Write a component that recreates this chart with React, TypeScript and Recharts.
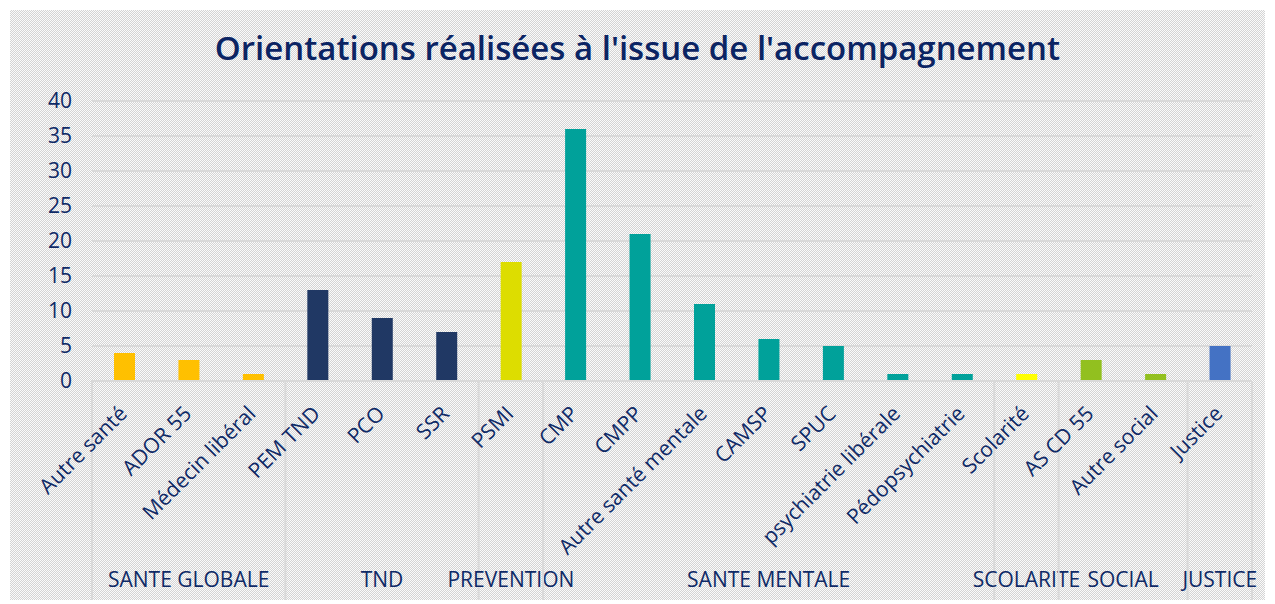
import React from 'react';
import { BarChart, Bar, XAxis, YAxis, CartesianGrid, Cell } from 'recharts';

const categories = [
  'Autre santé', 'ADOR 55', 'Médecin libéral',
  'PEM TND', 'PCO', 'SSR',
  'PSMI',
  'CMP', 'CMPP', 'Autre santé mentale', 'CAMSP', 'SPUC', 'psychiatrie libérale', 'Pédopsychiatrie',
  'Scolarité',
  'AS CD 55', 'Autre social',
  'Justice',
];
const values = [4, 3, 1, 13, 9, 7, 17, 36, 21, 11, 6, 5, 1, 1, 1, 3, 1, 5];
const groups = [
  'SANTE GLOBALE', 'SANTE GLOBALE', 'SANTE GLOBALE',
  'TND', 'TND', 'TND',
  'PREVENTION',
  'SANTE MENTALE', 'SANTE MENTALE', 'SANTE MENTALE', 'SANTE MENTALE', 'SANTE MENTALE', 'SANTE MENTALE', 'SANTE MENTALE',
  'SCOLARITE',
  'SOCIAL', 'SOCIAL',
  'JUSTICE',
];
const yTicks = [0, 5, 10, 15, 20, 25, 30, 35, 40];

const groupColors: Record<string, string> = {
  'SANTE GLOBALE': '#FFC000',
  TND: '#203864',
  PREVENTION: '#DDDD00',
  'SANTE MENTALE': '#00A19A',
  SCOLARITE: '#FFFF00',
  SOCIAL: '#92C01F',
  JUSTICE: '#4472C4',
};

const data = categories.map((name, i) => ({ name, value: values[i], group: groups[i] }));

const TEXT = '#0F2A66';
const GRID = '#D9D9D9';
const FONT = '"Open Sans", "Noto Sans", sans-serif';

const W = 1255;
const H = 590;
const MARGIN = { top: 91, right: 13, bottom: 19, left: 0 };
const Y_AXIS_W = 82;
const PLOT_W = W - MARGIN.left - MARGIN.right - Y_AXIS_W;
const STEP = PLOT_W / categories.length;

// rotated category label + group separators / group name under the first category of each group
const CategoryTick = (props: any) => {
  const { x, y, payload, index } = props;
  const i = index as number;
  const g = groups[i];
  const first = i === 0 || groups[i - 1] !== g;
  const last = i === categories.length - 1;
  let len = 0;
  if (first) {
    while (i + len < groups.length && groups[i + len] === g) len++;
  }
  const left = x - STEP / 2;
  const tx = x + 4;
  const ty = y + 34;
  return (
    <g>
      {first && <line x1={left} y1={y} x2={left} y2={H} stroke={GRID} strokeWidth={2} />}
      {last && <line x1={x + STEP / 2} y1={y} x2={x + STEP / 2} y2={H} stroke={GRID} strokeWidth={2} />}
      <text
        x={tx}
        y={ty}
        transform={`rotate(-45, ${tx}, ${ty})`}
        textAnchor="end"
        fill={TEXT}
        fontSize={21}
        fontFamily={FONT}
      >
        {payload.value}
      </text>
      {first && (
        <text
          x={left + (len * STEP) / 2}
          y={y + 206}
          textAnchor="middle"
          fill={TEXT}
          fontSize={21}
          fontFamily={FONT}
        >
          {g}
        </text>
      )}
    </g>
  );
};

export default function App() {
  return (
    <div
      style={{
        position: 'relative',
        width: W,
        height: H,
        marginLeft: 2,
        marginTop: 2,
        backgroundColor: '#e8e8e8',
        backgroundImage: 'repeating-conic-gradient(#d4d4d4 0% 25%, #fbfbfb 0% 50%)',
        backgroundSize: '2px 2px',
        fontFamily: FONT,
      }}
    >
      <div
        style={{
          position: 'absolute',
          top: 15,
          left: 0,
          width: W,
          textAlign: 'center',
          fontSize: 33,
          fontWeight: 600,
          color: '#0B2463',
          fontFamily: FONT,
        }}
      >
        Orientations réalisées à l'issue de l'accompagnement
      </div>
      <BarChart width={W} height={H} data={data} margin={MARGIN}>
        <CartesianGrid vertical={false} stroke={GRID} strokeWidth={2} />
        <XAxis
          dataKey="name"
          interval={0}
          height={200}
          tickLine={false}
          tickSize={0}
          tickMargin={0}
          axisLine={{ stroke: GRID, strokeWidth: 2 }}
          tick={<CategoryTick />}
        />
        <YAxis
          width={Y_AXIS_W}
          domain={[0, 40]}
          ticks={yTicks}
          axisLine={false}
          tickLine={false}
          tickSize={0}
          tickMargin={20}
          tick={{ fill: TEXT, fontSize: 21, fontFamily: FONT }}
        />
        <Bar dataKey="value" barSize={21} isAnimationActive={false}>
          {data.map((d) => (
            <Cell key={d.name} fill={groupColors[d.group]} />
          ))}
        </Bar>
      </BarChart>
    </div>
  );
}
